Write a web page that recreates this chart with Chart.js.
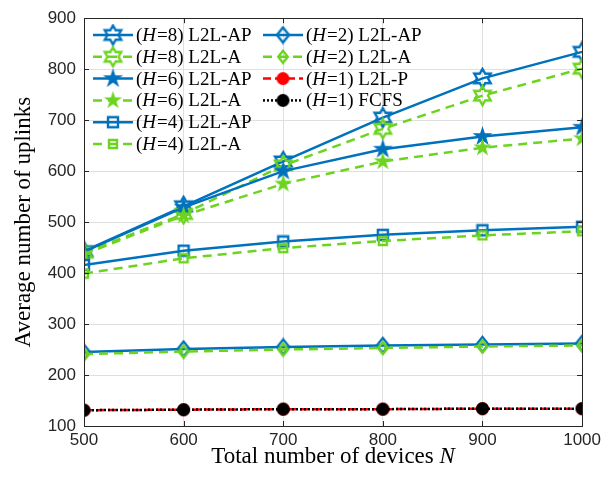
<!DOCTYPE html>
<html>
<head>
<meta charset="utf-8">
<script src="https://cdn.jsdelivr.net/npm/chart.js@4.4.1/dist/chart.umd.min.js"></script>
<style>
  html, body { margin: 0; padding: 0; background: #fff; }
  canvas { display: block; }
</style>
</head>
<body>
<canvas id="myChart" width="605" height="481"></canvas>
<script>
// values
const devices = [500, 600, 700, 800, 900, 1000];
const h8AP = [443, 531, 619, 705, 782, 834];
const h8A = [440, 516, 611, 683, 748, 801];
const h6AP = [442, 529, 600, 643, 668, 686];
const h6A = [437, 513, 575, 619, 646, 664];
const h4AP = [416, 444, 462, 475, 484, 491];
const h4A = [399, 429, 449, 463, 474, 482];
const h2AP = [245, 251, 255, 258, 260, 262];
const h2A = [241, 246, 250, 253, 256, 258];
const h1P = [131, 132, 133, 133, 134, 134];
const h1FCFS = [131, 132, 133, 133, 134, 134];
const yTicks = [100, 200, 300, 400, 500, 600, 700, 800, 900];

const blue = "#0072bd";
const green = "#6cd41f";
const red = "#ff0000";
const black = "#000000";

// marker images (Chart.js has no hexagram / pentagram of this kind)
function makeMarker(kind, color, r, filled) {
  const s = Math.ceil(r * 2 + 4);
  const c = document.createElement("canvas");
  c.width = s;
  c.height = s;
  const ctx = c.getContext("2d");
  const cx = s / 2, cy = s / 2;
  ctx.beginPath();
  if (kind === "hexagram" || kind === "pentagram") {
    const n = kind === "hexagram" ? 6 : 5;
    const inner = kind === "hexagram" ? r / Math.sqrt(3) : r * 0.382;
    for (let i = 0; i < n * 2; i++) {
      const rad = i % 2 === 0 ? r : inner;
      const a = -Math.PI / 2 + (i * Math.PI) / n;
      const px = cx + rad * Math.cos(a), py = cy + rad * Math.sin(a);
      i === 0 ? ctx.moveTo(px, py) : ctx.lineTo(px, py);
    }
    ctx.closePath();
  } else if (kind === "square") {
    ctx.rect(cx - r, cy - r, r * 2, r * 2);
  } else if (kind === "diamond") {
    ctx.moveTo(cx, cy - r);
    ctx.lineTo(cx + r * 0.8, cy);
    ctx.lineTo(cx, cy + r);
    ctx.lineTo(cx - r * 0.8, cy);
    ctx.closePath();
  } else {
    ctx.arc(cx, cy, r, 0, Math.PI * 2);
  }
  if (filled) {
    ctx.fillStyle = color;
    ctx.fill();
  } else {
    ctx.strokeStyle = color;
    ctx.lineWidth = 2.4;
    ctx.lineJoin = "miter";
    ctx.stroke();
  }
  return c;
}

const series = [
  { h: "8", name: "L2L-AP", data: h8AP, color: blue, dash: [], marker: makeMarker("hexagram", blue, 9.5, false) },
  { h: "8", name: "L2L-A", data: h8A, color: green, dash: [9, 6], marker: makeMarker("hexagram", green, 9.5, false) },
  { h: "6", name: "L2L-AP", data: h6AP, color: blue, dash: [], marker: makeMarker("pentagram", blue, 10.5, true) },
  { h: "6", name: "L2L-A", data: h6A, color: green, dash: [9, 6], marker: makeMarker("pentagram", green, 9.5, true) },
  { h: "4", name: "L2L-AP", data: h4AP, color: blue, dash: [], marker: makeMarker("square", blue, 5, false) },
  { h: "4", name: "L2L-A", data: h4A, color: green, dash: [9, 6], marker: makeMarker("square", green, 4, false) },
  { h: "2", name: "L2L-AP", data: h2AP, color: blue, dash: [], marker: makeMarker("diamond", blue, 7.5, false) },
  { h: "2", name: "L2L-A", data: h2A, color: green, dash: [9, 6], marker: makeMarker("diamond", green, 6, false) },
  { h: "1", name: "L2L-P", data: h1P, color: red, dash: [8, 4], marker: makeMarker("circle", red, 6.5, true) },
  { h: "1", name: "FCFS", data: h1FCFS, color: black, dash: [2, 2], marker: makeMarker("circle", black, 6.5, true) },
];

const serif = "'Liberation Serif', 'DejaVu Serif', serif";
const sans = "'Liberation Sans', Arial, sans-serif";

// legend, axis titles, inner ticks and the box, MATLAB style
const decorations = {
  id: "decorations",
  afterDatasetsDraw(chart) {
    const { ctx, chartArea: a, scales } = chart;
    ctx.save();

    // legend, two columns
    const cols = [{ x: 93, rows: 6 }, { x: 263, rows: 4 }];
    let k = 0;
    cols.forEach((col) => {
      for (let r = 0; r < col.rows; r++, k++) {
        const s = series[k];
        const y = 35 + r * 21.8;
        ctx.strokeStyle = s.color;
        ctx.lineWidth = 2.5;
        ctx.setLineDash(s.dash);
        ctx.beginPath();
        ctx.moveTo(col.x, y);
        ctx.lineTo(col.x + 40, y);
        ctx.stroke();
        ctx.setLineDash([]);
        const m = s.marker;
        ctx.drawImage(m, col.x + 20 - m.width / 2, y - m.height / 2);
        let tx = col.x + 43;
        ctx.fillStyle = "#000";
        ctx.textBaseline = "middle";
        ctx.textAlign = "left";
        const parts = [
          ["(", "normal"],
          ["H", "italic"],
          ["=", "normal"],
          [s.h + ")", "normal"],
          [" " + s.name, "normal"],
        ];
        parts.forEach(([t, st]) => {
          ctx.font = st + " 19px " + serif;
          ctx.fillText(t, tx, y + 1);
          tx += ctx.measureText(t).width + (t === "H" ? 1 : 0);
        });
      }
    });

    // inner ticks
    ctx.strokeStyle = "#262626";
    ctx.lineWidth = 1;
    devices.forEach((v) => {
      const x = Math.round(scales.x.getPixelForValue(v)) + 0.5;
      ctx.beginPath();
      ctx.moveTo(x, a.bottom);
      ctx.lineTo(x, a.bottom - 5);
      ctx.moveTo(x, a.top);
      ctx.lineTo(x, a.top + 5);
      ctx.stroke();
    });
    yTicks.forEach((v) => {
      const y = Math.round(scales.y.getPixelForValue(v)) + 0.5;
      ctx.beginPath();
      ctx.moveTo(a.left, y);
      ctx.lineTo(a.left + 5, y);
      ctx.moveTo(a.right, y);
      ctx.lineTo(a.right - 5, y);
      ctx.stroke();
    });

    // box
    ctx.strokeRect(Math.round(a.left) + 0.5, Math.round(a.top) + 0.5,
      Math.round(a.right - a.left), Math.round(a.bottom - a.top));

    // axis titles
    ctx.fillStyle = "#000";
    ctx.textBaseline = "alphabetic";
    const xt1 = "Total number of devices ";
    ctx.font = "23px " + serif;
    const w1 = ctx.measureText(xt1).width;
    ctx.font = "italic 23px " + serif;
    const w2 = ctx.measureText("N").width;
    const sx = (a.left + a.right) / 2 - (w1 + w2) / 2;
    ctx.textAlign = "left";
    ctx.font = "23px " + serif;
    ctx.fillText(xt1, sx, 463);
    ctx.font = "italic 23px " + serif;
    ctx.fillText("N", sx + w1, 463);

    ctx.translate(30, (a.top + a.bottom) / 2);
    ctx.rotate(-Math.PI / 2);
    ctx.textAlign = "center";
    ctx.font = "23px " + serif;
    ctx.fillText("Average number of uplinks", 0, 0);
    ctx.restore();
  },
};

const chartCanvas = document.getElementById("myChart");
const myChart = new Chart(chartCanvas, {
  type: "line",
  data: {
    datasets: series.map((s, i) => ({
      label: "(H=" + s.h + ") " + s.name,
      data: s.data.map((v, j) => ({ x: devices[j], y: v })),
      borderColor: s.color,
      backgroundColor: s.color,
      borderWidth: 2.5,
      borderDash: s.dash,
      pointStyle: s.marker,
      pointRadius: 8,
      fill: false,
      tension: 0,
      order: 20 - i,
    })),
  },
  options: {
    responsive: false,
    animation: false,
    devicePixelRatio: 1,
    layout: { padding: { top: 16, right: 20, left: 0, bottom: 0 } },
    plugins: {
      legend: { display: false },
      tooltip: { enabled: false },
    },
    scales: {
      x: {
        type: "linear",
        min: 500,
        max: 1000,
        afterFit: (s) => { s.height = 55; },
        ticks: {
          stepSize: 100,
          color: "#262626",
          padding: 4,
          font: { family: sans, size: 17 },
          callback: (v) => String(v),
        },
        grid: { color: "#dfdfdf", drawTicks: false },
        border: { display: false },
      },
      y: {
        type: "linear",
        min: 100,
        max: 900,
        afterFit: (s) => { s.width = 84; },
        ticks: {
          stepSize: 100,
          color: "#262626",
          padding: 8,
          font: { family: sans, size: 17 },
          callback: (v) => String(v),
        },
        grid: { color: "#dfdfdf", drawTicks: false },
        border: { display: false },
      },
    },
  },
  plugins: [decorations],
});
</script>
</body>
</html>
